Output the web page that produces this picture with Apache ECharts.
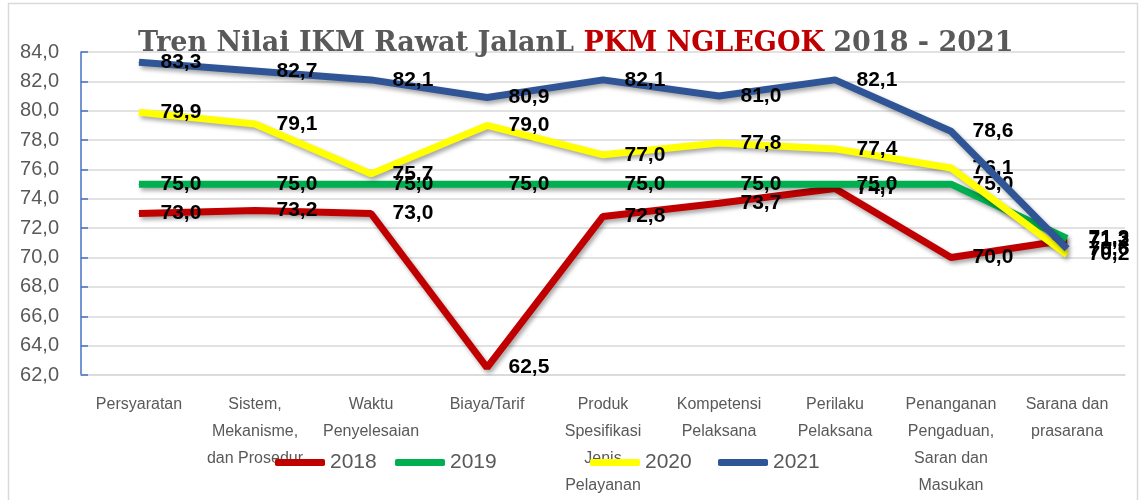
<!DOCTYPE html>
<html>
<head>
<meta charset="utf-8">
<script src="https://cdn.jsdelivr.net/npm/echarts@6/dist/echarts.min.js"></script>
<style>
  html, body { margin: 0; padding: 0; background: #fff; }
  #chart { width: 1143px; height: 500px; }
</style>
</head>
<body>
<div id="chart"></div>
<script>
var categories = [
  "Persyaratan",
  "Sistem,\nMekanisme,\ndan Prosedur",
  "Waktu\nPenyelesaian",
  "Biaya/Tarif",
  "Produk\nSpesifikasi\nJenis\nPelayanan",
  "Kompetensi\nPelaksana",
  "Perilaku\nPelaksana",
  "Penanganan\nPengaduan,\nSaran dan\nMasukan",
  "Sarana dan\nprasarana"
];
var years = ["2018", "2019", "2020", "2021"];
var values2018 = [73.0, 73.2, 73.0, 62.5, 72.8, 73.7, 74.7, 70.0, 71.2];
var values2019 = [75.0, 75.0, 75.0, 75.0, 75.0, 75.0, 75.0, 75.0, 71.3];
var values2020 = [79.9, 79.1, 75.7, 79.0, 77.0, 77.8, 77.4, 76.1, 70.2];
var values2021 = [83.3, 82.7, 82.1, 80.9, 82.1, 81.0, 82.1, 78.6, 70.6];
var colors = ["#C00000", "#00B050", "#FFFF00", "#2F5597"];
var legendLeft = [275, 395, 590, 718];

var allValues = [values2018, values2019, values2020, values2021];

var myChart = echarts.init(document.getElementById("chart"));

function makeSeries(i) {
  return {
    name: years[i],
    type: "line",
    data: allValues[i],
    symbol: "circle",
    symbolSize: 1,
    showSymbol: true,
    z: 2 + i,
    lineStyle: {
      color: colors[i],
      width: 7,
      shadowColor: "rgba(0,0,0,0.35)",
      shadowBlur: 4,
      shadowOffsetX: 2,
      shadowOffsetY: 3
    },
    itemStyle: { color: colors[i] },
    label: {
      show: true,
      position: "right",
      distance: 21,
      padding: [9, 0, 0, 0],
      color: "#000",
      fontSize: 21,
      fontWeight: "bold",
      fontFamily: "'Liberation Sans', Arial, sans-serif",
      formatter: function (p) {
        return p.value.toFixed(1).replace(".", ",");
      }
    },
    labelLayout: { hideOverlap: false },
    emphasis: { disabled: true }
  };
}

var legends = years.map(function (y, i) {
  return {
    data: [y],
    left: legendLeft[i],
    top: 452,
    padding: 0,
    icon: "roundRect",
    itemWidth: 50,
    itemHeight: 7,
    textStyle: {
      color: "#595959",
      fontSize: 21,
      fontFamily: "'Liberation Sans', sans-serif"
    },
    selectedMode: false
  };
});

myChart.setOption({
  animation: false,
  title: {
    text: "{g|Tren Nilai IKM Rawat JalanL }{r|PKM NGLEGOK}{g| 2018 - 2021}",
    left: 133,
    top: 25,
    textStyle: {
      rich: {
        g: {
          color: "#595959",
          fontSize: 27,
          fontWeight: "bold",
          fontFamily: "'DejaVu Serif', serif"
        },
        r: {
          color: "#C00000",
          fontSize: 27,
          fontWeight: "bold",
          fontFamily: "'DejaVu Serif', serif"
        }
      }
    }
  },
  legend: legends,
  graphic: [
    {
      type: "rect",
      shape: { x: 8.5, y: 3.5, width: 1129, height: 510 },
      style: { fill: "none", stroke: "#d9d9d9", lineWidth: 1.5 },
      silent: true
    }
  ],
  grid: { left: 81, right: 18, top: 52, bottom: 125 },
  xAxis: {
    type: "category",
    data: categories,
    boundaryGap: true,
    axisLine: { show: true, lineStyle: { color: "#d9d9d9", width: 1.5 } },
    axisTick: { show: false },
    axisLabel: {
      interval: 0,
      margin: 16,
      color: "#595959",
      fontSize: 16,
      lineHeight: 27,
      fontFamily: "'Liberation Sans', sans-serif"
    }
  },
  yAxis: {
    type: "value",
    min: 62,
    max: 84,
    interval: 2,
    axisLine: { show: true, lineStyle: { color: "#4472C4", width: 1.5 } },
    axisTick: { show: true, inside: true, length: 7, lineStyle: { color: "#4472C4", width: 1.5 } },
    splitLine: { lineStyle: { color: "#d9d9d9", width: 1.5 } },
    axisLabel: {
      margin: 22,
      color: "#595959",
      fontSize: 20,
      fontFamily: "'Liberation Sans', sans-serif",
      formatter: function (v) {
        return v.toFixed(1).replace(".", ",");
      }
    }
  },
  series: [makeSeries(0), makeSeries(1), makeSeries(2), makeSeries(3)]
});
</script>
</body>
</html>
